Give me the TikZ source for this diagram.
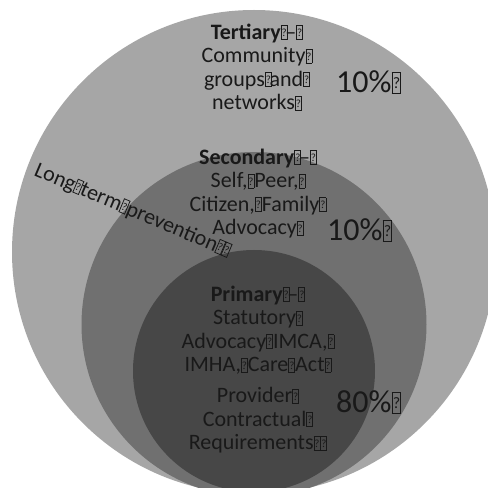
\documentclass[tikz,border=0pt]{standalone}
\usepackage{fontspec}
\setmainfont{Carlito}
\definecolor{ringout}{gray}{0.65}
\definecolor{ringmid}{gray}{0.44}
\definecolor{ringin}{gray}{0.28}
% placeholder box for characters the font could not show
\newcommand\mg{\raisebox{0.01em}{\setlength\fboxsep{0pt}\setlength\fboxrule{0.035em}\fbox{\makebox[0.24em]{\rule{0pt}{0.6em}\raisebox{0.12em}{\scalebox{0.5}{?}}}}}}
\tikzset{
  ring/.style={draw=none},
  block/.style={font=\fontsize{22}{23.5}\selectfont, align=center, anchor=base, inner sep=0pt, text=black!90},
  share/.style={font=\fontsize{32}{34}\selectfont, anchor=base west, inner sep=0pt, text=black!90},
}
\begin{document}
\begin{tikzpicture}[x=1pt,y=1pt]
\useasboundingbox (0,0) rectangle (488,488);
\clip (0,0) rectangle (488,488);
\fill[white] (0,0) rectangle (488,488);
% nested circles of prevention
\fill[ringout] (254,236) circle[radius=242];
\fill[ringmid] (254,163.5) circle[radius=172.5];
\fill[ringin] (254,117) circle[radius=121];
% labels of each level (anchored on the last line's baseline)
\node[block] (tert) at (257,378) {\textbf{Tertiary}\mg\kern-0.1em–\mg\\Community\mg\\groups\mg\kern-0.1em and\mg\\networks\mg};
\node[block] (sec) at (258,253) {\textbf{Secondary}\mg\kern-0.1em–\mg\\Self,\mg Peer,\mg\\Citizen,\mg Family\mg\\Advocacy\mg};
\node[block] (prim) at (258,116) {\textbf{Primary}\mg\kern-0.1em–\mg\\Statutory\mg\\Advocacy\mg IMCA,\mg\\IMHA,\mg Care\mg Act\mg};
\node[block] (prov) at (258,38) {Provider\mg\\Contractual\mg\\Requirements\mg\mg};
% shares
\node[share] (p1) at (336,395) {10\%\mg};
\node[share] (p2) at (327,247) {10\%\mg};
\node[share] (p3) at (336,75) {80\%\mg};
% slanted caption
\node[font=\fontsize{22}{24}\selectfont, anchor=base west, inner sep=0pt, rotate=-23, text=black!90] (ltp) at (33,313) {Long\mg term\mg prevention\mg\mg};
\end{tikzpicture}
\end{document}
